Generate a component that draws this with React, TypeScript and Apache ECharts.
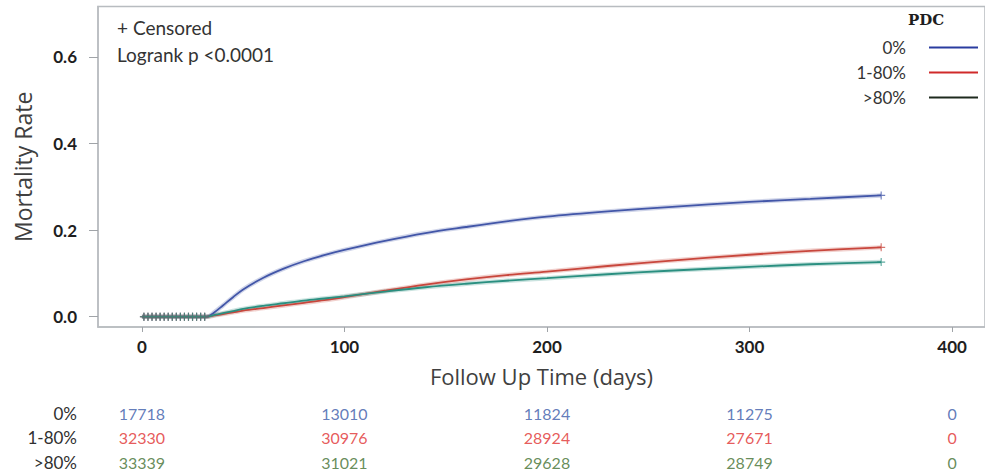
import React, { useEffect, useRef } from "react";
import * as echarts from "echarts";

// Follow-up days at which each cumulative mortality curve is sampled
const days = [0, 32, 36, 40, 45, 50, 60, 70, 80, 90, 100, 120, 140, 160, 180, 200, 230, 260, 300, 330, 365];

// Cumulative mortality by PDC group
const mortality0 = [0, 0, 0.011, 0.026, 0.045, 0.063, 0.09, 0.111, 0.128, 0.142, 0.154, 0.175, 0.193, 0.207, 0.22, 0.231, 0.243, 0.253, 0.265, 0.272, 0.28];
const mortality1to80 = [0, 0, 0.003, 0.006, 0.01, 0.014, 0.02, 0.026, 0.032, 0.038, 0.045, 0.06, 0.074, 0.086, 0.096, 0.104, 0.117, 0.129, 0.143, 0.152, 0.16];
const mortalityOver80 = [0, 0, 0.004, 0.008, 0.013, 0.018, 0.025, 0.031, 0.037, 0.042, 0.047, 0.058, 0.068, 0.076, 0.083, 0.089, 0.098, 0.106, 0.115, 0.121, 0.126];

// Censoring marks on the early flat stretch and at the end of follow-up
const censorDays = [1, 3, 5, 7, 9, 11, 13, 15, 17, 19, 21, 23, 25, 27, 29, 31, 365];

const groups = ["0%", "1-80%", ">80%"];
const curveColors = ["#4256a8", "#c8463c", "#2a8f80"];
const legendColors = ["#2a3ca0", "#d02a2a", "#1e2a1e"];
const riskColors = ["#3a5aa8", "#e03030", "#3f6f2f"];

// Numbers at risk
const riskDays = [0, 100, 200, 300, 400];
const atRisk0 = [17718, 13010, 11824, 11275, 0];
const atRisk1to80 = [32330, 30976, 28924, 27671, 0];
const atRiskOver80 = [33339, 31021, 29628, 28749, 0];

const xTicks = [0, 100, 200, 300, 400];
const yTicks = [0, 0.2, 0.4, 0.6];

const X_MIN = -21.67;
const X_MAX = 416.26;
const Y_MIN = -0.0238;
const Y_MAX = 0.716;

const FONT = "Lato, 'Open Sans', sans-serif";
const TITLE_FONT = "'Open Sans', Lato, sans-serif";
const PLUS = "path://M4.3,0h1.4v10h-1.4zM0,4.3h10v1.4h-10z";

export default function App() {
  const ref = useRef<HTMLDivElement>(null);

  useEffect(() => {
    if (!ref.current) return;
    const chart = echarts.init(ref.current, undefined, { renderer: "svg" });

    const curves = [mortality0, mortality1to80, mortalityOver80];
    const risks = [atRisk0, atRisk1to80, atRiskOver80];

    const valueAt = (arr: number[], t: number) => {
      for (let i = 1; i < days.length; i++) {
        if (t <= days[i]) {
          const f = (t - days[i - 1]) / (days[i] - days[i - 1]);
          return arr[i - 1] + f * (arr[i] - arr[i - 1]);
        }
      }
      return arr[arr.length - 1];
    };

    // Soft halo under each curve
    const haloSeries = groups.map((g, i) => ({
      name: g + " halo",
      type: "line",
      data: days.map((d, k) => [d, curves[i][k]]),
      smooth: 0.35,
      symbol: "none",
      lineStyle: { color: curveColors[i], width: 4.5, opacity: 0.25 },
      silent: true,
      z: 1,
    }));

    const lineSeries = groups.map((g, i) => ({
      name: g,
      type: "line",
      data: days.map((d, k) => [d, curves[i][k]]),
      smooth: 0.35,
      symbol: "none",
      lineStyle: { color: curveColors[i], width: 1.8 },
      itemStyle: { color: curveColors[i] },
      z: 2 + i,
    }));

    const censorSeries = groups.map((g, i) => ({
      name: g + " censored",
      type: "scatter",
      data: censorDays.map((d) => [d, valueAt(curves[i], d)]),
      symbol: PLUS,
      symbolSize: 8,
      itemStyle: { color: curveColors[i], opacity: 0.75 },
      z: 5 + i,
    }));

    const riskSeries = groups.map((g, i) => ({
      name: g + " at risk",
      type: "scatter",
      xAxisIndex: 1,
      yAxisIndex: 1,
      data: riskDays.map((d, k) => [d, g, risks[i][k]]),
      symbolSize: 1,
      itemStyle: { color: "rgba(0,0,0,0)" },
      label: {
        show: true,
        position: "inside",
        formatter: (p: any) => String(p.value[2]),
        color: riskColors[i],
        fontFamily: FONT,
        fontSize: 16,
      },
      silent: true,
    }));

    chart.setOption({
      animation: false,
      backgroundColor: "#ffffff",
      grid: [
        {
          left: 98,
          right: -2,
          top: 6.5,
          bottom: 148,
          show: true,
          borderColor: "#b8bcc0",
          borderWidth: 1.5,
        },
        { left: 98, right: -2, top: 400.75, height: 73.5 },
      ],
      xAxis: [
        {
          type: "value",
          gridIndex: 0,
          min: X_MIN,
          max: X_MAX,
          splitLine: { show: false },
          axisLine: { show: true, onZero: false, lineStyle: { color: "#b8bcc0", width: 1.5 } },
          axisTick: { show: true, length: 5, customValues: xTicks, lineStyle: { color: "#a0a4a8" } },
          axisLabel: {
            customValues: xTicks,
            margin: 11,
            color: "#1e1e1e",
            fontWeight: "bold",
            fontSize: 17,
            fontFamily: FONT,
          },
          name: "Follow Up Time (days)",
          nameLocation: "middle",
          nameGap: 38,
          nameTextStyle: { fontSize: 22, color: "#404040", fontFamily: TITLE_FONT },
        },
        { type: "value", gridIndex: 1, min: X_MIN, max: X_MAX, show: false },
      ],
      yAxis: [
        {
          type: "value",
          gridIndex: 0,
          min: Y_MIN,
          max: Y_MAX,
          splitLine: { show: false },
          axisLine: { show: true, onZero: false, lineStyle: { color: "#b8bcc0", width: 1.5 } },
          axisTick: { show: true, length: 9, customValues: yTicks, lineStyle: { color: "#a0a4a8" } },
          axisLabel: {
            customValues: yTicks,
            margin: 21,
            formatter: (v: number) => v.toFixed(1),
            color: "#1e1e1e",
            fontWeight: "bold",
            fontSize: 17,
            fontFamily: FONT,
          },
          name: "Mortality Rate",
          nameLocation: "middle",
          nameGap: 64,
          nameTextStyle: { fontSize: 23, color: "#404040", fontFamily: TITLE_FONT },
        },
        {
          type: "category",
          gridIndex: 1,
          data: groups,
          inverse: true,
          axisLine: { show: false },
          axisTick: { show: false },
          splitLine: { show: false },
          axisLabel: { margin: 21, color: "#303030", fontSize: 17, fontFamily: FONT },
        },
      ],
      legend: {
        data: groups.map((g, i) => ({ name: g, itemStyle: { color: legendColors[i] } })),
        orient: "vertical",
        align: "right",
        right: 2,
        top: 34,
        icon: "rect",
        itemWidth: 49,
        itemHeight: 2,
        itemGap: 8,
        textStyle: {
          fontFamily: FONT,
          fontSize: 17,
          color: "#333333",
          lineHeight: 16,
          padding: [0, 18, 0, 0],
        },
      },
      graphic: [
        {
          type: "text",
          left: 908,
          top: 12,
          style: {
            text: "PDC",
            font: "bold 15px 'DejaVu Serif', 'Liberation Serif', serif",
            fill: "#1e1e1e",
          },
        },
        {
          type: "text",
          left: 117,
          top: 18,
          style: { text: "+ Censored", font: `19px ${FONT}`, fill: "#333333" },
        },
        {
          type: "text",
          left: 117,
          top: 45,
          style: { text: "Logrank p <0.0001", font: `19px ${FONT}`, fill: "#333333" },
        },
      ],
      series: [...haloSeries, ...lineSeries, ...censorSeries, ...riskSeries],
    });

    return () => chart.dispose();
  }, []);

  return <div ref={ref} style={{ width: 985, height: 475, position: "absolute", left: 0, top: 0 }} />;
}
